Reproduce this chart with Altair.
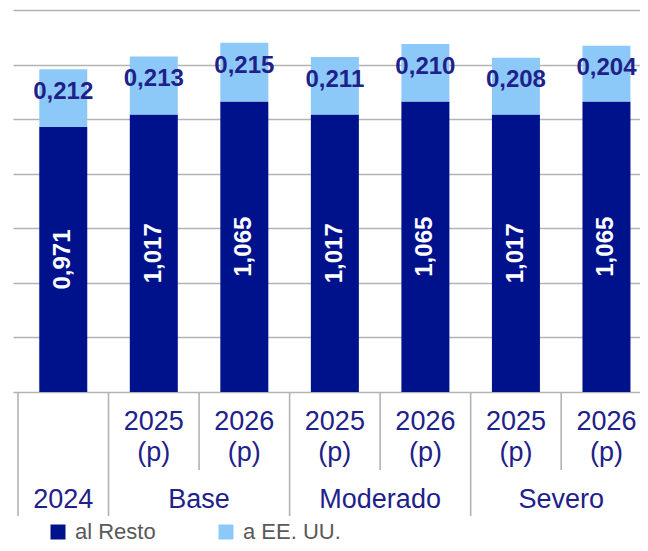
import altair as alt
import pandas as pd

# ---- data ----
periods = ["", "2025\n(p)", "2026\n(p)", "2025\n(p)", "2026\n(p)", "2025\n(p)", "2026\n(p)"]
groups = ["2024", "Base", "Base", "Moderado", "Moderado", "Severo", "Severo"]
resto = [0.971, 1.017, 1.065, 1.017, 1.065, 1.017, 1.065]
eeuu = [0.212, 0.213, 0.215, 0.211, 0.210, 0.208, 0.204]
series = ["al Resto", "a EE. UU."]
grid_ticks = [0, 0.2, 0.4, 0.6, 0.8, 1.0, 1.2, 1.4]

NAVY = "#00118C"
LIGHT = "#8DC9F8"
TXT = "#1D2189"
GRID = "#B3B3B3"
FONT = "Liberation Sans"

n = len(resto)
wide = pd.DataFrame({
    "idx": list(range(n)),
    "period": periods,
    "group": groups,
    "resto": resto,
    "eeuu": eeuu,
})
long_rows = []
for i in range(n):
    long_rows.append({"idx": i, "serie": series[0], "value": resto[i], "ord": 0})
    long_rows.append({"idx": i, "serie": series[1], "value": eeuu[i], "ord": 1})
long_df = pd.DataFrame(long_rows)

# separators of the two-level category axis (the right end lies outside the view)
sep_rows = []
for i in range(n):
    full = i == 0 or groups[i] != groups[i - 1]
    sep_rows.append({"pos": i - 0.5, "kind": "full" if full else "short"})
sep_df = pd.DataFrame(sep_rows)

PLOT_W = 627
PLOT_H = 382
TOTAL_H = 535
CAT_W = 92.0
xscale = alt.Scale(domain=[-0.5, -0.5 + PLOT_W / CAT_W], nice=False, zero=False)
yscale = alt.Scale(domain=[grid_ticks[0], grid_ticks[-1]], nice=False)

bars = alt.Chart(long_df).mark_bar(size=48).encode(
    x=alt.X("idx:Q", scale=xscale, axis=None),
    y=alt.Y("value:Q", stack="zero", scale=yscale,
            axis=alt.Axis(values=grid_ticks, grid=True, labels=False, ticks=False,
                          domain=False, title=None, gridColor=GRID, gridWidth=1.6)),
    color=alt.Color("serie:N",
                    scale=alt.Scale(domain=series, range=[NAVY, LIGHT]),
                    legend=alt.Legend(title=None, orient="none", legendX=34, legendY=511,
                                      direction="horizontal", symbolType="square",
                                      symbolSize=225, symbolStrokeWidth=0,
                                      labelFontSize=22, labelFont=FONT, labelColor="#595959",
                                      labelOffset=6, columnPadding=59, padding=0)),
    order=alt.Order("ord:Q", sort="ascending"),
)

resto_lbl = alt.Chart(wide).transform_calculate(
    lbl="replace(format(datum.resto, '.3f'), '.', ',')",
    mid="datum.resto / 2",
).mark_text(angle=270, color="white", fontWeight="bold", fontSize=24, font=FONT,
            baseline="middle", align="center").encode(
    x=alt.X("idx:Q", scale=xscale),
    y=alt.Y("mid:Q", scale=yscale),
    text="lbl:N",
)

eeuu_lbl = alt.Chart(wide).transform_calculate(
    lbl="replace(format(datum.eeuu, '.3f'), '.', ',')",
    mid="datum.resto + datum.eeuu / 2",
).mark_text(color=TXT, fontWeight="bold", fontSize=24, font=FONT,
            baseline="middle", align="center", dy=-6).encode(
    x=alt.X("idx:Q", scale=xscale),
    y=alt.Y("mid:Q", scale=yscale),
    text="lbl:N",
)

sep_full = alt.Chart(sep_df).transform_filter("datum.kind == 'full'").mark_rule(
    color=GRID, strokeWidth=1.6).encode(
    x=alt.X("pos:Q", scale=xscale), y=alt.value(PLOT_H), y2=alt.value(506))
sep_short = alt.Chart(sep_df).transform_filter("datum.kind == 'short'").mark_rule(
    color=GRID, strokeWidth=1.6).encode(
    x=alt.X("pos:Q", scale=xscale), y=alt.value(PLOT_H), y2=alt.value(460))

period_lbl = alt.Chart(wide).mark_text(
    fontSize=27, font=FONT, color=TXT, lineBreak="\n", lineHeight=31,
    baseline="middle", align="center").encode(
    x=alt.X("idx:Q", scale=xscale), y=alt.value(412), text="period:N")

group_lbl = alt.Chart(wide).transform_aggregate(
    center="mean(idx)", groupby=["group"]).mark_text(
    fontSize=27, font=FONT, color=TXT, baseline="middle", align="center").encode(
    x=alt.X("center:Q", scale=xscale), y=alt.value(490), text="group:N")

chart = alt.layer(bars, resto_lbl, eeuu_lbl, sep_full, sep_short, period_lbl, group_lbl).properties(
    width=PLOT_W, height=PLOT_H,
    padding={"left": 5, "top": 2, "right": 0, "bottom": TOTAL_H - 2 - PLOT_H},
    autosize=alt.AutoSizeParams(type="none"),
).configure_view(stroke=None)

chart.save("out.html", embed_options={"renderer": "svg", "actions": False})
